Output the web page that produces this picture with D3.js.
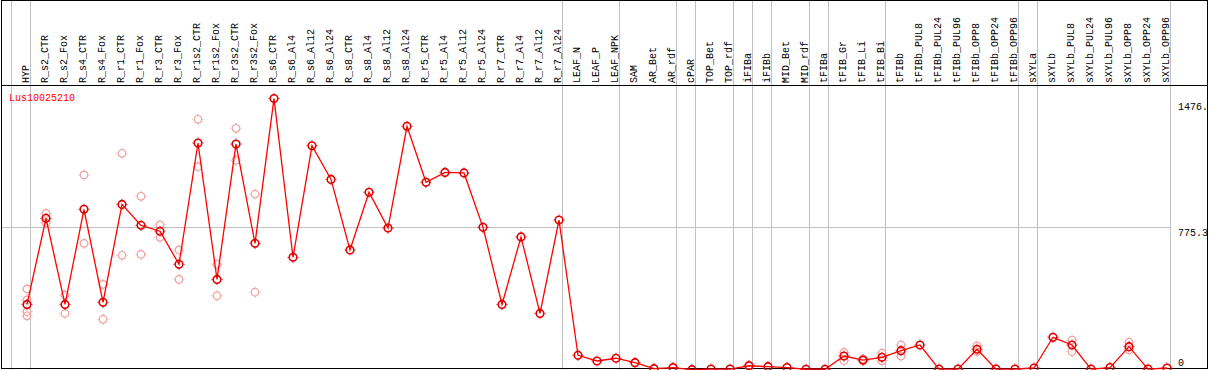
<!DOCTYPE html>
<html>
<head>
<meta charset="utf-8">
<script src="https://cdn.jsdelivr.net/npm/d3@7"></script>
<style>
  body { margin: 0; background: #fff; }
  svg { display: block; font-family: "Liberation Mono", "DejaVu Sans Mono", monospace; }
</style>
</head>
<body>
<div id="chart"></div>
<script>
// gene and sample names
const geneName = "Lus10025210";

const samples = ["HYP", "R_s2_CTR", "R_s2_Fox", "R_s4_CTR", "R_s4_Fox", "R_r1_CTR", "R_r1_Fox",
    "R_r3_CTR", "R_r3_Fox", "R_r1s2_CTR", "R_r1s2_Fox", "R_r3s2_CTR", "R_r3s2_Fox",
    "R_s6_CTR", "R_s6_Al4", "R_s6_Al12", "R_s6_Al24", "R_s8_CTR", "R_s8_Al4", "R_s8_Al12", "R_s8_Al24",
    "R_r5_CTR", "R_r5_Al4", "R_r5_Al12", "R_r5_Al24", "R_r7_CTR", "R_r7_Al4", "R_r7_Al12", "R_r7_Al24",
    "LEAF_N", "LEAF_P", "LEAF_NPK", "SAM", "AR_Bet", "AR_rdf", "cPAR", "TOP_Bet", "TOP_rdf",
    "iFIBa", "iFIBb", "MID_Bet", "MID_rdf", "tFIBa", "tFIB_Gr", "tFIB_Li", "tFIB_Bi",
    "tFIBb", "tFIBb_PUL8", "tFIBb_PUL24", "tFIBb_PUL96", "tFIBb_OPP8", "tFIBb_OPP24", "tFIBb_OPP96",
    "sXYLa", "sXYLb", "sXYLb_PUL8", "sXYLb_PUL24", "sXYLb_PUL96", "sXYLb_OPP8", "sXYLb_OPP24", "sXYLb_OPP96"];

// sizes of the sample groups (separated by grey lines)
const groupSizes = [1, 28, 3, 3, 1, 2, 1, 1, 2, 1, 3, 7, 1, 7];

// mean expression per sample
const means = [357, 825, 357, 874, 368, 901, 787, 755, 575, 1235, 493, 1229, 689,
    1476.7, 613, 1220, 1037, 653, 967, 772, 1326,
    1021, 1075, 1072, 776, 357, 724, 308, 816,
    80, 49, 64, 40, 7, 13, 2, 5, 5,
    23, 18, 13, 4, 4, 76, 54, 69,
    105, 136, 5, 5, 113, 5, 5,
    11, 178, 136, 5, 13, 127, 5, 11];

// individual replicates per sample
const replicates = [
    [441, 381, 317, 295], [852, 801], [408, 308], [1061, 689], [466, 276], [1179, 624], [945, 629],
    [789, 722], [653, 493], [1364, 1106], [575, 404], [1315, 1141], [957, 423],
    [], [], [], [], [], [], [], [],
    [], [], [], [], [], [], [], [],
    [], [], [], [], [], [10], [], [], [],
    [26, 20], [], [], [], [], [96, 51], [60, 49], [91, 50],
    [136, 76], [], [], [], [131, 100], [], [],
    [], [], [163, 100], [], [], [151, 110], [], []];

const yTicks = [1476.7, 775.3, 0];
const yTickLabels = ["1476.", "775.3", "0"];

const width = 1209, height = 370;
const headerY = 85, plotBottom = 370;

const svg = d3.select("#chart").append("svg")
    .attr("width", width)
    .attr("height", height);

const xScale = d3.scaleBand()
    .domain(samples)
    .range([11, 11 + 19 * samples.length])
    .paddingInner(0).paddingOuter(0);
const xPos = s => xScale(s) + 16;

const yScale = d3.scaleLinear()
    .domain([0, d3.max(means) * 1.05])
    .range([plotBottom, headerY]);

// mid grey line
svg.append("line")
    .attr("x1", 1).attr("x2", xScale.range()[1])
    .attr("y1", Math.round(yScale(775.3)) + 0.5).attr("y2", Math.round(yScale(775.3)) + 0.5)
    .attr("stroke", "#c0c0c0");

// group separators
let bounds = [0];
groupSizes.forEach(n => bounds.push(bounds[bounds.length - 1] + n));
svg.selectAll(".sep")
    .data(bounds)
    .join("line")
    .attr("class", "sep")
    .attr("x1", k => 11 + 19 * k + 0.5)
    .attr("x2", k => 11 + 19 * k + 0.5)
    .attr("y1", 0).attr("y2", height)
    .attr("stroke", "#c0c0c0");

// frame
svg.append("rect")
    .attr("x", 1.5).attr("y", 0.5)
    .attr("width", width - 3).attr("height", 368)
    .attr("fill", "none").attr("stroke", "#000");
svg.append("line")
    .attr("x1", 1).attr("x2", width - 1)
    .attr("y1", headerY + 0.5).attr("y2", headerY + 0.5)
    .attr("stroke", "#000");

// sample labels (rotated)
svg.selectAll(".slabel")
    .data(samples)
    .join("text")
    .attr("class", "slabel")
    .attr("transform", d => `translate(${xPos(d) + 2},83) rotate(-90)`)
    .attr("font-size", "10px")
    .attr("fill", "#000")
    .text(d => d);

// y labels
const yOffsets = [11, 9, -4];
svg.selectAll(".ylabel")
    .data(yTicks)
    .join("text")
    .attr("class", "ylabel")
    .attr("x", 1178)
    .attr("y", (d, i) => yScale(d) + yOffsets[i])
    .attr("font-size", "10px")
    .attr("fill", "#000")
    .text((d, i) => yTickLabels[i]);

// gene name
svg.append("text")
    .attr("x", 9).attr("y", 101)
    .attr("font-size", "10px")
    .attr("fill", "#ff0000")
    .text(geneName);

// marker: circle with small ticks
function marker(g, color, sw) {
    g.append("circle").attr("r", 3.8).attr("fill", "none").attr("stroke", color).attr("stroke-width", sw);
    g.append("path")
        .attr("d", "M0,-5.5V-4.5M0,4.5V5.5M-5.5,0H-4.5M4.5,0H5.5")
        .attr("stroke", color).attr("stroke-width", 1);
}

// replicates
const repPts = [];
replicates.forEach((reps, i) => reps.forEach(v => repPts.push({s: samples[i], v: v})));
svg.selectAll(".rep")
    .data(repPts)
    .join("g")
    .attr("class", "rep")
    .attr("transform", d => `translate(${xPos(d.s)},${yScale(d.v)})`)
    .each(function() { marker(d3.select(this), "#f0a0a0", 1.2); });

// mean line
const line = d3.line()
    .x((d, i) => xPos(samples[i]))
    .y(d => yScale(d));
svg.append("path")
    .datum(means)
    .attr("d", line)
    .attr("fill", "none")
    .attr("stroke", "#ff0000")
    .attr("stroke-width", 1.3);

svg.selectAll(".mean")
    .data(means)
    .join("g")
    .attr("class", "mean")
    .attr("transform", (d, i) => `translate(${xPos(samples[i])},${yScale(d)})`)
    .each(function() { marker(d3.select(this), "#e00000", 1.6); });
</script>
</body>
</html>
